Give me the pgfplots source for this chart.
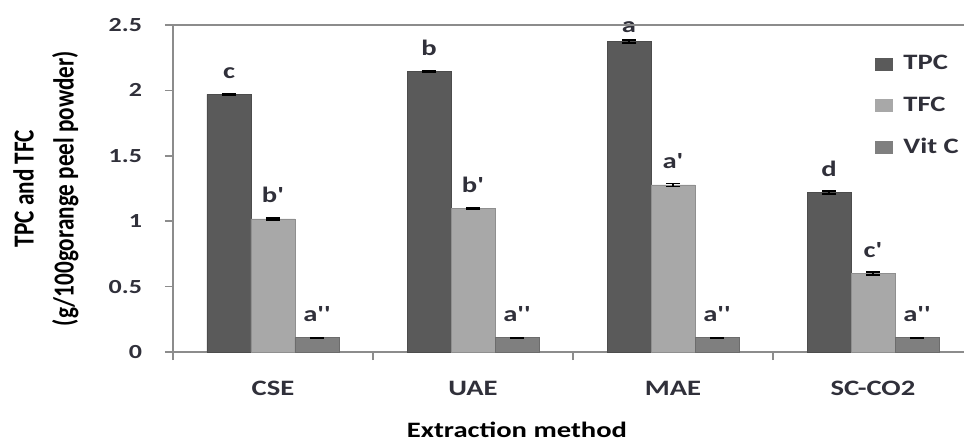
\documentclass[border=0pt]{standalone}
\usepackage{fontspec}
\setmainfont{Carlito}
\newfontfamily\wf[FakeStretch=1.3]{Carlito}
\newfontfamily\nf[FakeStretch=0.8]{Carlito}
\usepackage{pgfplots}
\pgfplotsset{compat=1.18}
\usepackage{pgfplotstable}
\definecolor{cTPC}{HTML}{5A5A5A}
\definecolor{cTFC}{HTML}{A8A8A8}
\definecolor{cVit}{HTML}{7F7F7F}
\definecolor{axgray}{HTML}{8C8C8C}
\definecolor{txt}{HTML}{30303A}

\pgfplotstableread{
x y e l
0 1.970 0.005 c
1 2.143 0.003 b
2 2.372 0.012 {}
3 1.218 0.012 d
}\tpc
\pgfplotstableread{
x y l
1.78 2.372 a
}\tpca
\pgfplotstableread{
x y e l
0 1.017 0.006 b'
1 1.095 0.003 b'
2 1.277 0.012 a'
3 0.600 0.012 c'
}\tfc
\pgfplotstableread{
x y e l
0 0.108 0.003 a''
1 0.108 0.003 a''
2 0.108 0.003 a''
3 0.108 0.003 a''
}\vitc

\begin{document}
\begin{tikzpicture}
\useasboundingbox (-86.5pt,-44.5pt) rectangle (395.5pt,176pt);
\begin{axis}[
  at={(0,0)}, anchor=south west,
  scale only axis, width=400pt, height=163.5pt,
  xmin=-0.5, xmax=3.5, ymin=0, ymax=2.5,
  ytick={0,0.5,1,1.5,2,2.5},
  xtick={-0.5,0.5,1.5,2.5,3.5}, xticklabels={},
  extra x ticks={0,1,2,3},
  extra x tick labels={CSE,UAE,MAE,SC-CO2},
  extra x tick style={major tick length=0pt},
  tick align=outside, tick pos=left,
  major tick length=4pt,
  axis line style={axgray, line width=0.8pt},
  every tick/.style={axgray, line width=0.8pt},
  /pgf/number format/assume math mode=true,
  yticklabel style={font=\wf\bfseries\fontsize{10}{12}\selectfont, text=txt, xshift=-8pt},
  xticklabel style={font=\wf\bfseries\fontsize{11}{13}\selectfont, text=txt, anchor=center, yshift=-18pt},
  xlabel={Extraction method},
  xlabel style={at={(axis description cs:0.43,0)}, anchor=center, yshift=-39pt,
    font=\wf\bfseries\fontsize{11}{13}\selectfont, text=black},
  ylabel={TPC and TFC\\(g/100gorange peel powder)},
  ylabel style={at={(axis description cs:-0.159,0.5)}, anchor=center, align=center,
    font=\nf\bfseries\fontsize{14.5}{20}\selectfont, text=black},
  ybar, bar width=0.22,
  nodes near coords, point meta=explicit symbolic,
  every node near coord/.append style={font=\wf\bfseries\fontsize{11}{13}\selectfont, text=txt, anchor=base, yshift=8pt},
  legend image code/.code={\draw[#1,draw=none] (0pt,-3.25pt) rectangle (9pt,3.25pt);},
  legend style={at={(axis cs:3.01,2.27)}, anchor=north west, draw=none, fill=none,
    inner sep=0pt, row sep=12pt, column sep=5pt,
    font=\wf\bfseries\fontsize{11}{13}\selectfont, text=txt,
    nodes={inner sep=0pt}},
  legend cell align=left,
  after end axis/.code={\draw[axgray, line width=1pt] (rel axis cs:0,1) -- (rel axis cs:1,1);},
]
\addplot[fill=cTPC, draw=cTPC!85!black, line width=0.4pt, bar shift=-0.22,
  error bars/.cd, y dir=both, y explicit,
  error bar style={black, line width=0.8pt},
  error mark options={rotate=90, black, mark size=3.5pt, line width=0.9pt}]
  table[x=x, y=y, y error=e, meta=l]{\tpc};
\addlegendentry{TPC}
\addplot[fill=cTFC, draw=cTFC!85!black, line width=0.4pt, bar shift=0,
  error bars/.cd, y dir=both, y explicit,
  error bar style={black, line width=0.8pt},
  error mark options={rotate=90, black, mark size=3.5pt, line width=0.9pt}]
  table[x=x, y=y, y error=e, meta=l]{\tfc};
\addlegendentry{TFC}
\addplot[fill=cVit, draw=cVit!85!black, line width=0.4pt, bar shift=0.22,
  error bars/.cd, y dir=both, y explicit,
  error bar style={black, line width=0.8pt},
  error mark options={rotate=90, black, mark size=3.5pt, line width=0.9pt}]
  table[x=x, y=y, y error=e, meta=l]{\vitc};
\addlegendentry{Vit C}
\addplot[forget plot, draw=none, fill=none, bar shift=0,
  every node near coord/.style={font=\wf\bfseries\fontsize{11}{13}\selectfont, text=txt, anchor=base, yshift=4.5pt}]
  table[x=x, y=y, meta=l]{\tpca};
\end{axis}
\end{tikzpicture}
\end{document}
